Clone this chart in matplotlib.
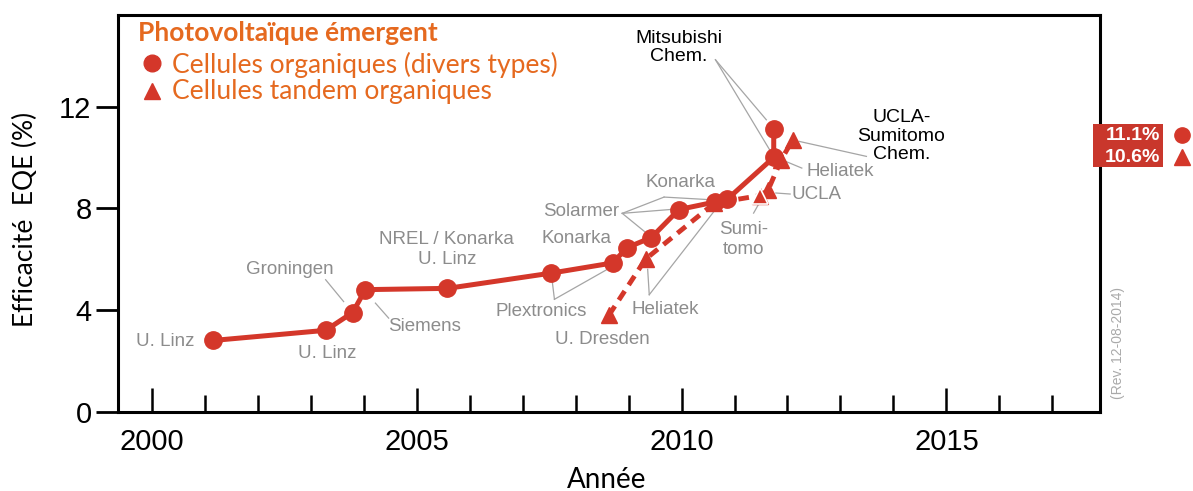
import matplotlib
matplotlib.use("Agg")
import matplotlib.pyplot as plt
from matplotlib import font_manager
from matplotlib.patches import Rectangle
from matplotlib.lines import Line2D

# organic cells (circles), in drawing order of the solid line
years_org = [2001.15, 2003.28, 2003.79, 2004.03, 2005.58, 2007.54, 2008.70,
             2008.97, 2009.43, 2009.95, 2010.64, 2010.86, 2011.74, 2011.74]
eff_org = [2.8, 3.2, 3.9, 4.8, 4.85, 5.45, 5.85, 6.45, 6.85, 7.95, 8.25,
           8.35, 10.0, 11.1]

# tandem organic cells (triangles), dashed line
years_tandem = [2008.63, 2009.32, 2010.62, 2011.48, 2011.63, 2011.88, 2012.1]
eff_tandem = [3.8, 6.0, 8.2, 8.5, 8.7, 9.9, 10.7]

# data point labels: (text, x, y, align, colour)
point_labels = [
    ("U. Linz", 2000.8, 2.78, "right", "grey"),
    ("U. Linz", 2003.3, 2.3, "center", "grey"),
    ("Groningen", 2002.6, 5.6, "center", "grey"),
    ("Siemens", 2005.15, 3.35, "center", "grey"),
    ("NREL / Konarka\nU. Linz", 2005.57, 6.37, "center", "grey"),
    ("Plextronics", 2007.35, 3.94, "center", "grey"),
    ("Solarmer", 2008.1, 7.87, "center", "grey"),
    ("Konarka", 2008.01, 6.83, "center", "grey"),
    ("Konarka", 2009.98, 9.0, "center", "grey"),
    ("U. Dresden", 2008.51, 2.82, "center", "grey"),
    ("Heliatek", 2009.7, 4.0, "center", "grey"),
    ("Sumi-\ntomo", 2011.17, 6.76, "center", "grey"),
    ("UCLA", 2012.55, 8.53, "center", "grey"),
    ("Heliatek", 2012.99, 9.45, "center", "grey"),
    ("UCLA-\nSumitomo\nChem.", 2014.15, 10.83, "center", "black"),
    ("Mitsubishi\nChem.", 2009.95, 14.32, "center", "black"),
]

# leader lines: (x0, y0, x1, y1)
leaders = [
    (2003.28, 5.19, 2003.62, 4.33),
    (2004.22, 4.27, 2004.47, 3.68),
    (2007.6, 4.42, 2007.56, 5.1),
    (2007.6, 4.42, 2008.6, 5.6),
    (2008.88, 7.8, 2009.9, 7.97),
    (2008.88, 7.8, 2009.38, 6.95),
    (2008.88, 7.8, 2009.67, 8.44),
    (2009.67, 8.44, 2010.6, 8.33),
    (2009.39, 4.6, 2009.36, 5.6),
    (2009.39, 4.6, 2010.61, 7.87),
    (2011.36, 7.81, 2011.52, 8.4),
    (2012.05, 8.56, 2011.78, 8.6),
    (2012.27, 9.58, 2011.97, 9.84),
    (2013.49, 10.04, 2012.22, 10.63),
    (2010.64, 13.84, 2011.6, 11.48),
    (2010.64, 13.84, 2011.68, 10.24),
]

year_ticks = [2000, 2005, 2010, 2015]
eff_ticks = [0, 4, 8, 12]
record_labels = ["11.1%", "10.6%"]

RED = "#d4372a"
ORANGE = "#e5691f"
GREY = "#8c8c8c"

available = {f.name for f in font_manager.fontManager.ttflist}
narrow = "Liberation Sans Narrow" in available
tick_font = ["Liberation Sans Narrow", "DejaVu Sans"] if narrow else ["Liberation Sans", "DejaVu Sans"]
tick_size = 24 if narrow else 21
label_font = ["Liberation Sans", "DejaVu Sans"]
uifont = ["Lato", "DejaVu Sans"]

W, H = 1193, 491
fig = plt.figure(figsize=(W / 100, H / 100), dpi=100)
ax = fig.add_axes([118 / W, 1 - 411.7 / H, (1100 - 118) / W, (411.7 - 15) / H])
ax.set_xlim(1999.36, 2017.9)
ax.set_ylim(0, 15.6)

for side in ["left", "right", "top", "bottom"]:
    ax.spines[side].set_linewidth(2.2)

ax.set_xticks(year_ticks)
ax.set_xticks(range(2000, 2018), minor=True)
ax.tick_params(axis="x", which="major", direction="in", length=17, width=1.8,
               pad=12)
ax.tick_params(axis="x", which="minor", direction="in", length=12, width=1.8)
ax.set_yticks(eff_ticks)
ax.tick_params(axis="y", direction="out", length=16, width=2, pad=3)
for lab in ax.get_xticklabels() + ax.get_yticklabels():
    lab.set_family(tick_font)
    lab.set_fontsize(tick_size)

# tandem dashed line first, then the solid organic one on top
ax.plot(years_tandem, eff_tandem, color=RED, lw=3.5, ls=(0, (2.2, 1.5)),
        marker="^", ms=12, zorder=3)
ax.plot(years_tandem[3], eff_tandem[3], marker="^", ms=12, color=RED,
        mec="white", mew=1.2, zorder=3)
ax.plot(years_org, eff_org, color=RED, lw=3.6, marker="o", ms=12.5, zorder=4)

for x0, y0, x1, y1 in leaders:
    ax.plot([x0, x1], [y0, y1], color="#a5a5a5", lw=0.9, zorder=2)

for text, x, y, ha, col in point_labels:
    if col == "black":
        ax.text(x, y, text, ha=ha, va="center", color="black", family=label_font,
                fontsize=14, linespacing=1.1, zorder=5)
    else:
        ax.text(x, y, text, ha=ha, va="center", color=GREY, family=label_font,
                fontsize=13.5, linespacing=1.25, zorder=5)

fig.text(25 / W, 1 - 219 / H, "Efficacité  EQE (%)", rotation=90, ha="center",
         va="center", family=uifont, fontsize=19)
fig.text(607 / W, 1 - 480 / H, "Année", ha="center", va="center",
         family=uifont, fontsize=20)

# legend block
fig.text(138 / W, 1 - 33 / H, "Photovoltaïque émergent", ha="left",
         va="center", family=uifont, fontsize=19, fontweight="bold",
         color=ORANGE)
fig.text(172 / W, 1 - 65 / H, "Cellules organiques (divers types)", ha="left",
         va="center", family=uifont, fontsize=19, color=ORANGE)
fig.text(172 / W, 1 - 92 / H, "Cellules tandem organiques", ha="left",
         va="center", family=uifont, fontsize=19, color=ORANGE)
fig.add_artist(Line2D([152 / W], [1 - 63 / H], marker="o", ms=12, color=RED,
                      transform=fig.transFigure))
fig.add_artist(Line2D([152 / W], [1 - 91 / H], marker="^", ms=12, color=RED,
                      transform=fig.transFigure))

# record efficiency box on the right
fig.add_artist(Rectangle((1093 / W, 1 - 167 / H), 70 / W, 43 / H,
                         transform=fig.transFigure, color="#c9372c", lw=0))
for i, txt in enumerate(record_labels):
    yy = 1 - (135 + 22 * i) / H
    fig.text(1160 / W, yy, txt, ha="right", va="center", color="white",
             family=label_font, fontsize=14, fontweight="bold")
fig.add_artist(Line2D([1182 / W], [1 - 135 / H], marker="o", ms=11, color=RED,
                      transform=fig.transFigure))
fig.add_artist(Line2D([1182 / W], [1 - 157 / H], marker="^", ms=11, color=RED,
                      transform=fig.transFigure))

fig.text(1118 / W, 1 - 343 / H, "(Rev. 12-08-2014)", rotation=90, ha="center",
         va="center", color="#aaaaaa", family=label_font, fontsize=10)

fig.savefig("out.png", dpi=100)
